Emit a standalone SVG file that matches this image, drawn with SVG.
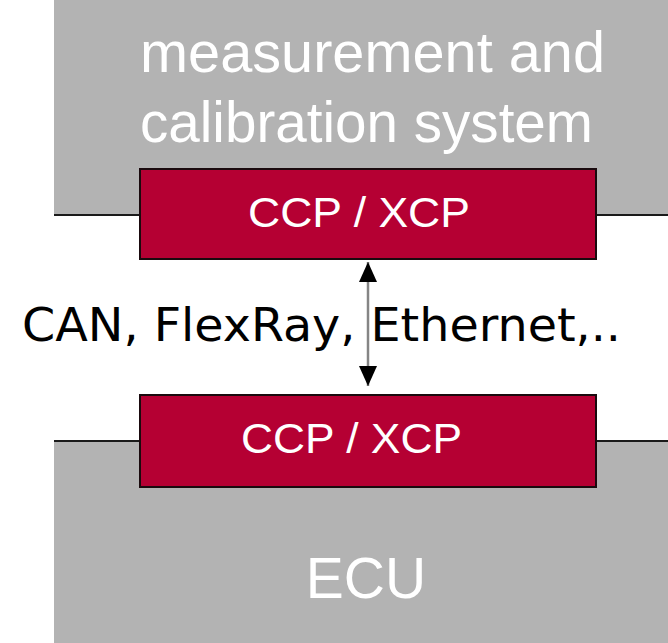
<svg xmlns="http://www.w3.org/2000/svg" width="668" height="643" viewBox="0 0 668 643">
  <defs>
    <style>
      .block { fill: #b3b3b3; }
      .proto { fill: #b50033; stroke: #1a0a0e; stroke-width: 2; }
      .edge { stroke: #1a1a1a; stroke-width: 2; fill: none; }
      .light { fill: #ffffff; font-family: "Liberation Sans", Arial, sans-serif; }
      .bus { fill: #000000; font-family: "DejaVu Sans", Verdana, sans-serif; font-size: 47px; }
      .link { stroke: #858585; stroke-width: 2.5; fill: none; }
    </style>
    <marker id="tip" viewBox="0 0 20 18" refX="20" refY="9" markerWidth="20" markerHeight="18" markerUnits="userSpaceOnUse" orient="auto-start-reverse">
      <path d="M0,0 L20,9 L0,18 Z" fill="#000000"/>
    </marker>
  </defs>

  <rect width="668" height="643" fill="#ffffff"/>

  <!-- upper system block -->
  <g id="mcs">
    <rect class="block" x="54" y="0" width="614" height="215"/>
    <path class="edge" d="M54,215 H140 M596,215 H668"/>
    <text class="light" x="140" y="72" font-size="57" textLength="465" lengthAdjust="spacingAndGlyphs">measurement and</text>
    <text class="light" x="140" y="142" font-size="57" textLength="453" lengthAdjust="spacingAndGlyphs">calibration system</text>
  </g>

  <!-- lower system block -->
  <g id="ecu">
    <rect class="block" x="54" y="441" width="614" height="202"/>
    <path class="edge" d="M54,441 H140 M596,441 H668"/>
    <text class="light" x="366" y="598" font-size="57" text-anchor="middle">ECU</text>
  </g>

  <!-- protocol layer, master side -->
  <g id="ccp-master">
    <rect class="proto" x="140" y="169" width="456" height="90"/>
    <text class="light" x="248" y="227" font-size="43" textLength="222" lengthAdjust="spacingAndGlyphs">CCP / XCP</text>
  </g>

  <!-- protocol layer, slave side -->
  <g id="ccp-slave">
    <rect class="proto" x="140" y="395" width="456" height="92"/>
    <text class="light" x="241" y="453" font-size="43" textLength="221" lengthAdjust="spacingAndGlyphs">CCP / XCP</text>
  </g>

  <!-- bus link between both protocol layers -->
  <g id="connectors">
    <line class="link" x1="368" y1="262" x2="368" y2="386" marker-start="url(#tip)" marker-end="url(#tip)"/>
    <text class="bus" x="22" y="341" textLength="599" lengthAdjust="spacingAndGlyphs">CAN, FlexRay, Ethernet,..</text>
  </g>
</svg>
